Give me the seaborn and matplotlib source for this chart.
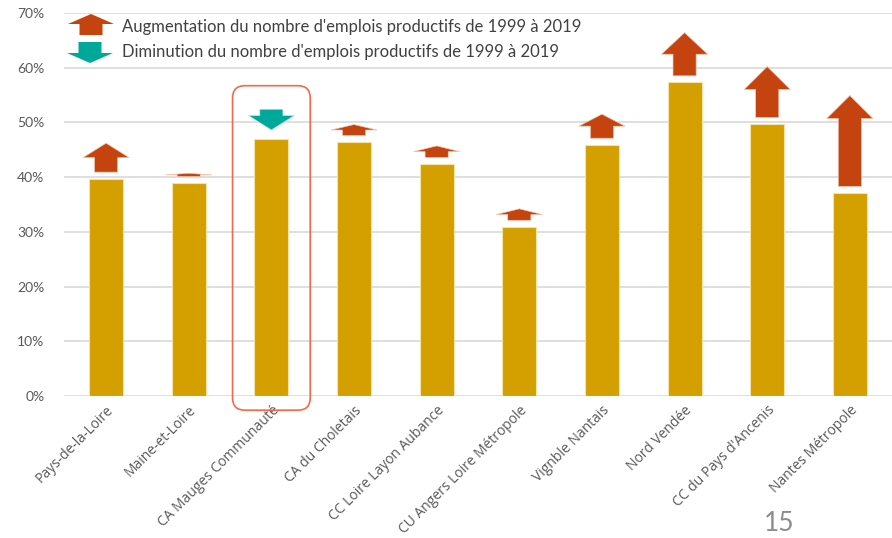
import numpy as np
import pandas as pd
import seaborn as sns
import matplotlib.pyplot as plt
from matplotlib.patches import FancyArrow, FancyBboxPatch
from matplotlib.ticker import FuncFormatter

# ---- data ----
territoires = ["Pays-de-la-Loire", "Maine-et-Loire", "CA Mauges Communauté", "CA du Choletais",
               "CC Loire Layon Aubance", "CU Angers Loire Métropole", "Vignble Nantais",
               "Nord Vendée", "CC du Pays d'Ancenis", "Nantes Métropole"]
part_emplois = [39.7, 38.9, 47.0, 46.4, 42.4, 30.9, 45.9, 57.3, 49.7, 37.1]
# size of the arrows (change in productive jobs 1999-2019, in axis points)
evolution = [5.3, 0.6, -3.8, 2.0, 2.1, 2.1, 4.4, 7.9, 9.3, 16.6]
territoire_cible = "CA Mauges Communauté"

legende = ["Augmentation du nombre d'emplois productifs de 1999 à 2019",
           "Diminution du nombre d'emplois productifs de 1999 à 2019"]

BAR_COLOR = '#D4A000'
UP_COLOR = '#C5430F'
DOWN_COLOR = '#00A89A'
TEXT_COLOR = '#595959'

sns.set_style("white")
plt.rcParams['font.family'] = ['Lato', 'DejaVu Sans']

df = pd.DataFrame({'territoire': territoires, 'part': part_emplois, 'evol': evolution})

fig = plt.figure(figsize=(8.92, 5.38), dpi=100)
ax = fig.add_axes([0.0717, 0.264, 0.9283, 0.712])

sns.barplot(data=df, x='territoire', y='part', color=BAR_COLOR, width=0.41,
            saturation=1, edgecolor='#f3e3a8', linewidth=0.8, ax=ax, zorder=3)

ax.set_xlim(-0.51, len(territoires) - 0.49)
ax.set_ylim(0, 70)
ax.set_yticks(np.arange(0, 71, 10))
ax.yaxis.set_major_formatter(FuncFormatter(lambda v, p: f"{v:.0f}%"))
ax.grid(axis='y', color='#d9d9d9', linewidth=1.2, zorder=0)
ax.set_axisbelow(True)
for s in ax.spines.values():
    s.set_visible(False)
ax.tick_params(axis='both', length=0, colors=TEXT_COLOR, labelsize=10)
ax.tick_params(axis='y', pad=14)
ax.tick_params(axis='x', pad=5)
ax.set_xlabel('')
ax.set_ylabel('')
ax.set_xticks(range(len(territoires)))
ax.set_xticklabels(territoires, rotation=45, ha='right', rotation_mode='anchor',
                   fontsize=10, color=TEXT_COLOR, family=['Open Sans', 'DejaVu Sans'])

# ---- arrows above the bars ----
shaft_w = 0.28
head_w = 0.56
for i, (val, ev) in enumerate(zip(part_emplois, evolution)):
    L = abs(ev)
    head_len = min(0.5 * L, 4.2)
    if ev >= 0:
        arr = FancyArrow(i, val + 1.2, 0, L, width=shaft_w, head_width=head_w,
                         head_length=head_len, length_includes_head=True,
                         color=UP_COLOR, ec='#f0c8b0', lw=0.5, zorder=4)
    else:
        arr = FancyArrow(i, val + 1.6 + L, 0, -L, width=shaft_w, head_width=head_w,
                         head_length=head_len * 1.4, length_includes_head=True,
                         color=DOWN_COLOR, ec='#c0ece8', lw=0.5, zorder=4)
    ax.add_patch(arr)

# ---- rounded frame around the target territory ----
fig.canvas.draw()
bb = ax.get_window_extent()
px_x = bb.width / (ax.get_xlim()[1] - ax.get_xlim()[0])
px_y = bb.height / (ax.get_ylim()[1] - ax.get_ylim()[0])
k = territoires.index(territoire_cible)
box = FancyBboxPatch((k - 0.47, -2.6), 0.94, part_emplois[k] + 12.3,
                     boxstyle="round,pad=0,rounding_size=0.15",
                     mutation_aspect=px_x / px_y, fill=False,
                     ec='#F06A4A', lw=1.2, clip_on=False, zorder=5)
ax.add_patch(box)

# ---- legend (drawn by hand, with arrow icons) ----
tr = fig.dpi_scale_trans
H = 5.38
fig.add_artist(FancyArrow(0.91, H - 0.35, 0, 0.21, width=0.23, head_width=0.46,
                          head_length=0.10, length_includes_head=True,
                          color=UP_COLOR, lw=0, transform=tr))
fig.add_artist(FancyArrow(0.90, H - 0.42, 0, -0.21, width=0.23, head_width=0.46,
                          head_length=0.10, length_includes_head=True,
                          color=DOWN_COLOR, lw=0, transform=tr))
fig.text(1.22, H - 0.27, legende[0], transform=tr, va='center', ha='left',
         fontsize=12, color='#404040')
fig.text(1.22, H - 0.52, legende[1], transform=tr, va='center', ha='left',
         fontsize=12, color='#404040')

# page number
fig.text(0.856, 0.003, "15", va='bottom', ha='left', fontsize=19, color='#8c8c8c')

plt.savefig('out.png', dpi=100)
